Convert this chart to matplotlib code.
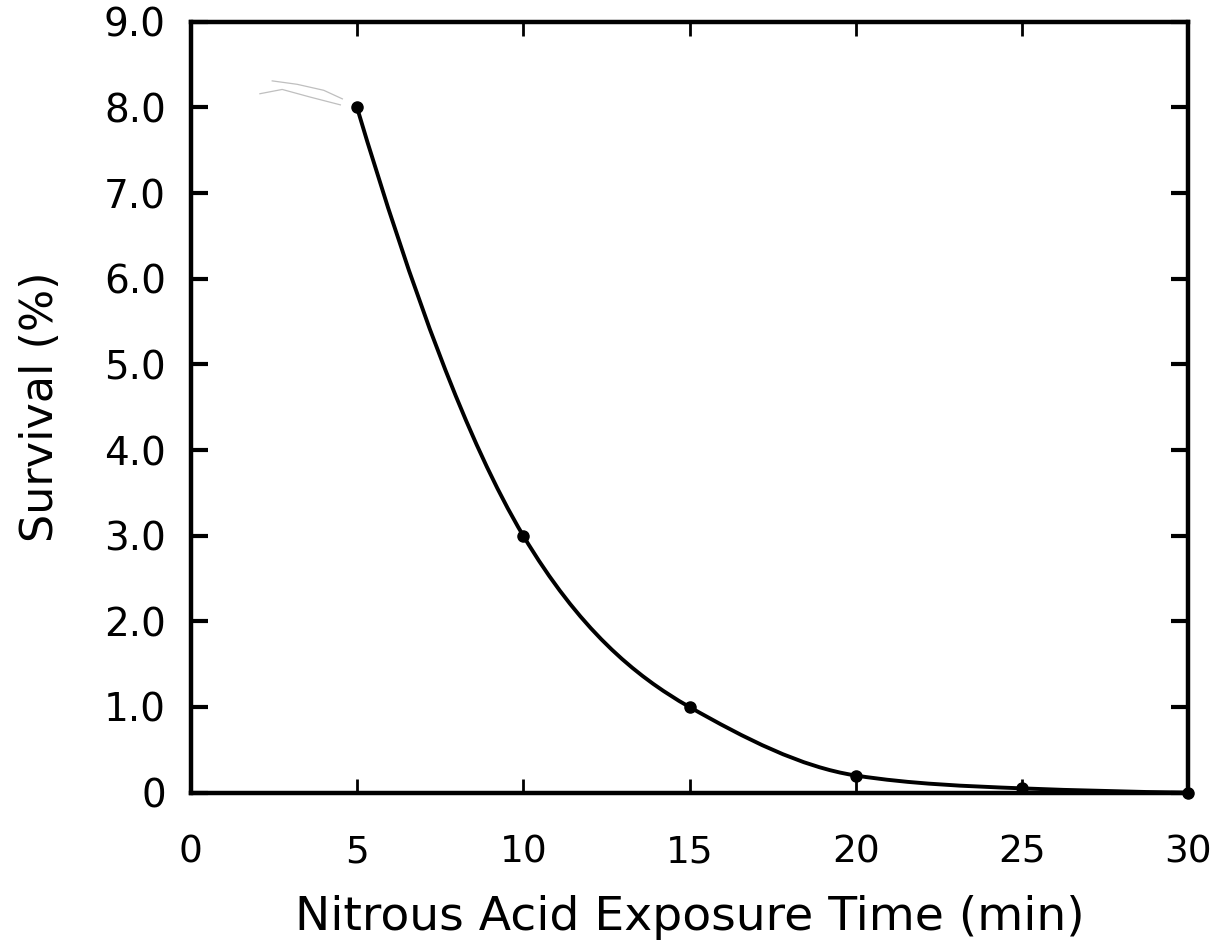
import numpy as np
import matplotlib
matplotlib.use("Agg")
import matplotlib.pyplot as plt
from matplotlib.path import Path
from matplotlib.patches import PathPatch

plt.rcParams['font.family'] = ['DejaVu Sans']

# measured survival points
time_min = [5, 10, 15, 20, 25, 30]
survival = [8.0, 3.0, 1.0, 0.2, 0.05, 0.0]
# slope of the hand-drawn curve at each point
slopes = [-1.3, -0.65, -0.22, -0.06, -0.015, -0.005]

# faint scan trace left of the first point (two pale strokes)
trace_x_upper = [2.45, 3.2, 4.0, 4.56]
trace_y_upper = [8.31, 8.27, 8.2, 8.1]
trace_x_lower = [2.08, 2.75, 3.6, 4.5]
trace_y_lower = [8.16, 8.21, 8.12, 8.03]

x_ticks = [0, 5, 10, 15, 20, 25, 30]
y_ticks = [0, 1, 2, 3, 4, 5, 6, 7, 8, 9]
y_ticklabels = ['0', '1.0', '2.0', '3.0', '4.0', '5.0', '6.0', '7.0', '8.0', '9.0']

fig = plt.figure(figsize=(12.15, 9.47), dpi=100)
ax = fig.add_axes([0.157, 0.163, 0.821, 0.814])

# smooth curve through the points as cubic bezier segments
verts = [(time_min[0], survival[0])]
codes = [Path.MOVETO]
for i in range(len(time_min) - 1):
    x0, y0, m0 = time_min[i], survival[i], slopes[i]
    x1, y1, m1 = time_min[i + 1], survival[i + 1], slopes[i + 1]
    h = (x1 - x0) / 3.0
    verts += [(x0 + h, y0 + m0 * h), (x1 - h, y1 - m1 * h), (x1, y1)]
    codes += [Path.CURVE4] * 3
ax.add_patch(PathPatch(Path(verts, codes), facecolor='none', edgecolor='black',
                       lw=2.8, transform=ax.transData, clip_on=False))

ax.plot(time_min, survival, 'o', color='black', markersize=8, clip_on=False, zorder=5)

ax.plot(trace_x_upper, trace_y_upper, color='0.75', lw=0.9)
ax.plot(trace_x_lower, trace_y_lower, color='0.75', lw=0.9)

ax.set_xlim(0, 30)
ax.set_ylim(0, 9)
ax.set_xticks(x_ticks)
ax.set_yticks(y_ticks)
ax.set_yticklabels(y_ticklabels)

for side in ['left', 'right', 'top', 'bottom']:
    ax.spines[side].set_linewidth(3.2)

ax.tick_params(axis='y', which='both', direction='in', left=True, right=True,
               length=12, width=3, labelsize=28, pad=18)
ax.tick_params(axis='x', which='both', direction='in', bottom=True, top=True,
               length=10, width=2, labelsize=27, pad=30)

ax.set_xlabel('Nitrous Acid Exposure Time (min)', fontsize=34, labelpad=18)
ax.set_ylabel('Survival (%)', fontsize=32, labelpad=30)

fig.savefig('out.png', dpi=100)
